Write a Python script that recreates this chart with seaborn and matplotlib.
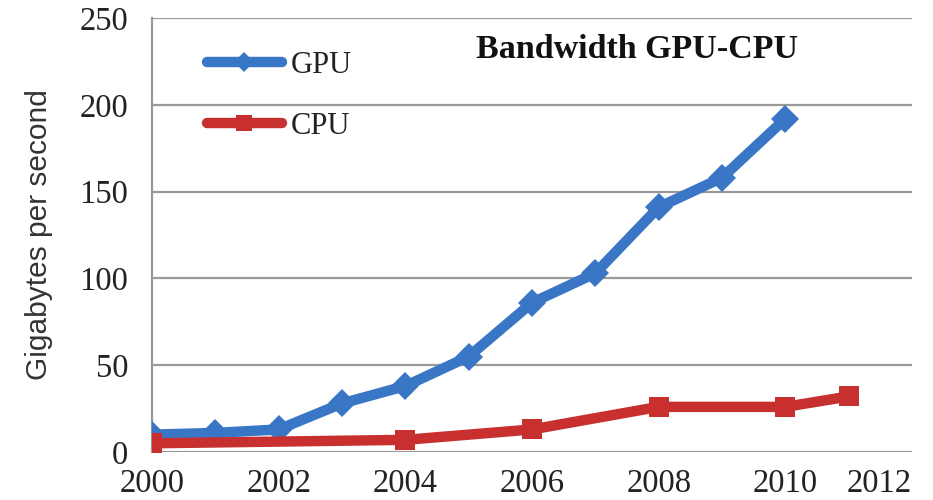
import matplotlib
matplotlib.use("Agg")
import matplotlib.pyplot as plt
import seaborn as sns
import pandas as pd

# Memory bandwidth, gigabytes per second
gpu_years = [2000, 2001, 2002, 2003, 2004, 2005, 2006, 2007, 2008, 2009, 2010]
gpu_values = [10, 11, 13, 28, 38, 55, 86, 103, 141, 158, 192]
cpu_years = [2000, 2004, 2006, 2008, 2010, 2011]
cpu_values = [5, 7, 13, 26, 26, 32]

x_ticks = [2000, 2002, 2004, 2006, 2008, 2010, 2012]
y_ticks = [0, 50, 100, 150, 200, 250]

gpu_df = pd.DataFrame({"year": gpu_years, "bandwidth": gpu_values})
cpu_df = pd.DataFrame({"year": cpu_years, "bandwidth": cpu_values})

sns.set_theme(style="white")
plt.rcParams["font.family"] = ["Liberation Serif", "DejaVu Serif"]

fig = plt.figure(figsize=(9.33, 5.0), dpi=100)
ax = fig.add_axes([0.163, 0.096, 0.8145, 0.868])

blue = "#3a76c6"
red = "#c83030"

sns.lineplot(data=gpu_df, x="year", y="bandwidth", ax=ax, color=blue,
             linewidth=7.5, marker="D", markersize=14, markeredgewidth=0,
             label="GPU", sort=False, solid_capstyle="round", zorder=3)
sns.lineplot(data=cpu_df, x="year", y="bandwidth", ax=ax, color=red,
             linewidth=7.5, marker="s", markersize=15, markeredgewidth=0,
             label="CPU", sort=False, solid_capstyle="round", zorder=4)

ax.set_xlim(2000, 2012)
ax.set_ylim(0, 250)
ax.set_xticks(x_ticks)
ax.set_yticks(y_ticks)
ax.set_xticklabels([str(t) for t in x_ticks], fontsize=23.5)
ax.set_yticklabels([str(t) for t in y_ticks], fontsize=23.5)
ax.get_xticklabels()[-1].set_horizontalalignment("right")
ax.tick_params(axis="both", length=0, colors="#222222")
ax.tick_params(axis="x", pad=12)
ax.tick_params(axis="y", pad=17)

ax.yaxis.grid(True, color="#9a9a9a", linewidth=1.6)
ax.xaxis.grid(False)
for side in ["top", "right", "bottom"]:
    ax.spines[side].set_visible(False)
ax.spines["left"].set_color("#9a9a9a")
ax.spines["left"].set_linewidth(1.6)

ax.set_xlabel("")
ax.set_ylabel("Gigabytes per second", fontsize=21.5, color="#333333",
              family=["Liberation Sans", "DejaVu Sans"], labelpad=19)

ax.text(0.638, 0.928, "Bandwidth GPU-CPU", transform=ax.transAxes,
        ha="center", va="center", fontsize=24.5, fontweight="bold",
        color="#111111")

leg = ax.legend(loc="upper left", bbox_to_anchor=(0.056, 0.952), frameon=False,
                fontsize=22, handlelength=2.45, handletextpad=0.3,
                labelspacing=1.05, borderaxespad=0, markerscale=0.75)
for t in leg.get_texts():
    t.set_color("#222222")

fig.savefig("out.png", dpi=100, facecolor="white")
